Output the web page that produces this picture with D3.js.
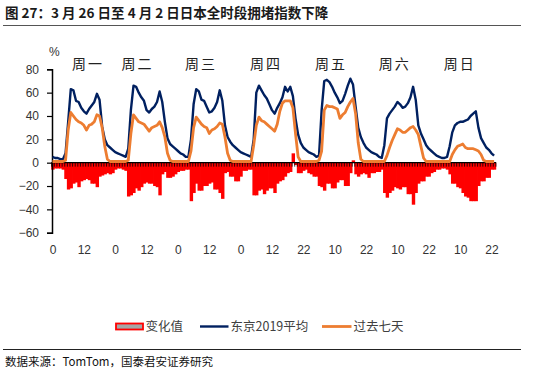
<!DOCTYPE html>
<html>
<head>
<meta charset="utf-8">
<script src="https://cdn.jsdelivr.net/npm/d3@7"></script>
<style>
  body { margin: 0; background: #fff; }
  svg { display: block; }
</style>
</head>
<body>
<div id="chart"></div>
<script>
// hour labels shown on the x axis (every 12th point)
const tickLabels = ["0", "12", "0", "12", "0", "12", "0", "12", "22", "10", "22", "10", "22", "10", "22"];
const dayNames = ["周一", "周二", "周三", "周四", "周五", "周六", "周日"];

// 东京2019平均
const tokyo2019 = [
  5, 4, 4, 3, 3, 8, 35, 63, 62, 53, 52, 47, 44, 42, 46, 49, 52, 59, 54, 31, 20, 15, 13, 11,
  9, 8, 7, 6, 5, 12, 45, 66, 65, 60, 56, 53, 45, 43, 46, 48, 52, 61, 52, 35, 21, 16, 14, 12,
  10, 8, 7, 5, 5, 20, 50, 63, 61, 54, 53, 48, 43, 44, 47, 52, 62, 53, 32, 22, 18, 15, 13, 11,
  9, 8, 7, 6, 5, 20, 60, 66, 62, 58, 55, 50, 45, 42, 47, 51, 56, 65, 61, 65, 57, 38, 24, 17,
  13, 11, 9, 8, 7, 5, 6, 45, 70, 71, 69, 65, 60, 56, 51, 53, 59, 66, 72, 67, 48, 30, 22, 17,
  13, 11, 9, 8, 7, 5, 4, 15, 38, 42, 45, 48, 52, 50, 47, 48, 51, 56, 65, 54, 32, 25, 20, 15,
  12, 10, 8, 6, 5, 4, 4, 5, 14, 26, 32, 34, 35, 35, 36, 37, 40, 42, 44, 30, 21, 17, 13, 11, 8, 6
];

// 过去七天
const past7 = [
  1, 1, 1, 1, 1, 2, 28, 43, 40, 37, 35, 34, 32, 28, 32, 33, 35, 41, 40, 30, 14, 3, 1, 1,
  1, 1, 1, 1, 1, 2, 25, 41, 38, 35, 34, 33, 30, 27, 30, 31, 32, 35, 30, 22, 8, 2, 1, 1,
  1, 1, 1, 1, 1, 10, 30, 39, 36, 33, 31, 30, 25, 28, 29, 31, 34, 33, 22, 8, 2, 1, 1, 1,
  1, 1, 1, 1, 1, 15, 32, 39, 36, 35, 33, 31, 29, 27, 33, 44, 51, 53, 53, 53, 47, 25, 5, 1,
  1, 1, 1, 1, 1, 1, 2, 10, 45, 49, 48, 48, 47, 46, 38, 41, 43, 48, 52, 55, 42, 17, 3, 1,
  1, 1, 1, 1, 1, 1, 1, 1, 6, 13, 19, 24, 29, 28, 26, 26, 28, 30, 31, 28, 24, 14, 4, 1,
  1, 1, 1, 1, 1, 1, 1, 1, 1, 7, 11, 14, 15, 16, 13, 12, 12, 12, 11, 10, 7, 2, 1, 1, 1, 1
];

// 变化值
const change = [
  -6, -5, -5, -5, -6, -14, -23, -22, -18, -17, -21, -16, -15, -14, -15, -18, -18, -21, -12, -11, -10, -9, -10, -9,
  -6, -5, -5, -6, -7, -29, -28, -26, -22, -24, -21, -18, -17, -18, -18, -20, -21, -28, -10, -8, -13, -13, -12, -10,
  -8, -7, -7, -6, -6, -33, -26, -18, -24, -24, -20, -20, -18, -17, -23, -23, -26, -31, -9, -8, -12, -12, -16, -16,
  -12, -7, -7, -6, -6, -28, -28, -24, -23, -27, -24, -22, -22, -26, -18, -16, -15, -12, -9, -8, 8, -2, -9, -9,
  -7, -6, -9, -10, -12, -12, -20, -21, -24, -18, -18, -22, -22, -17, -15, -15, -20, -20, -9, 2, -10, -12, -10, -9,
  -10, -13, -9, -9, -8, -8, -6, -26, -30, -26, -24, -21, -22, -23, -21, -21, -27, -27, -36, -26, -18, -16, -16, -12,
  -12, -9, -8, -6, -6, -5, -5, -6, -10, -18, -18, -21, -22, -26, -29, -30, -33, -33, -33, -20, -16, -16, -13, -13, -6, -6
];

// where the weekday captions sit, in point index units
const dayPos = [13.6, 32.5, 56.8, 81.7, 106.6, 131, 155.9];

const color = {
  change: "#ff0000",
  tokyo: "#002060",
  past: "#ed7d31"
};

const numFont = "'Liberation Sans', Arial, sans-serif";
const cjkFont = "'Noto Sans CJK SC', sans-serif";

const svg = d3.select("#chart")
  .append("svg")
  .attr("width", 550)
  .attr("height", 373)
  .style("background", "#fff");

const x = d3.scaleLinear().domain([0, tokyo2019.length - 1]).range([52.5, 494.1]);
const y = d3.scaleLinear().domain([-60, 80]).range([232.7, 69.3]);
const step = x(1) - x(0);

// Title + rule
svg.append("text")
  .attr("x", 5)
  .attr("y", 18)
  .attr("font-family", cjkFont)
  .attr("font-size", "13.5px")
  .attr("font-weight", "bold")
  .attr("fill", "#1a1a1a")
  .text("图 27：3 月 26 日至 4 月 2 日日本全时段拥堵指数下降");

svg.append("line")
  .attr("x1", 3).attr("x2", 521)
  .attr("y1", 25.5).attr("y2", 25.5)
  .attr("stroke", "#555")
  .attr("stroke-width", 1.2);

// Bars (slightly overlapped so no seams show between neighbours)
svg.append("g")
  .selectAll("rect")
  .data(change)
  .join("rect")
  .attr("x", (d, i) => x(i) - step / 2)
  .attr("width", step + 0.8)
  .attr("y", d => y(Math.max(0, d)))
  .attr("height", d => Math.abs(y(d) - y(0)))
  .attr("fill", color.change);

// Zero axis with dense tick marks
svg.append("g")
  .attr("transform", `translate(0,${y(0)})`)
  .call(d3.axisBottom(x)
    .tickValues(d3.range(-0.5, tokyo2019.length, 1))
    .tickSize(4)
    .tickFormat(""))
  .call(g => g.select(".domain").attr("d", `M${x(0) - 1},0H${x(tokyo2019.length - 1) + 2}`).attr("stroke", "#000").attr("stroke-width", 1.2))
  .call(g => g.selectAll(".tick line").attr("stroke", "#000").attr("stroke-width", 0.8));

// X tick labels at the bottom
svg.append("g")
  .attr("transform", "translate(0,242.5)")
  .call(d3.axisBottom(x)
    .tickValues(tickLabels.map((d, i) => i * 12))
    .tickSize(0)
    .tickPadding(3)
    .tickFormat((d, i) => tickLabels[i]))
  .call(g => g.select(".domain").remove())
  .call(g => g.selectAll("text")
    .attr("font-family", numFont)
    .attr("font-size", "12px")
    .attr("fill", "#333"));

// Y axis
svg.append("g")
  .attr("transform", "translate(52,0)")
  .call(d3.axisLeft(y)
    .tickValues(d3.range(-60, 81, 20))
    .tickSize(5)
    .tickPadding(8))
  .call(g => g.select(".domain").attr("stroke", "#000").attr("stroke-width", 1.5))
  .call(g => g.selectAll(".tick line").attr("stroke", "#000").attr("stroke-width", 1.2))
  .call(g => g.selectAll("text")
    .attr("font-family", numFont)
    .attr("font-size", "12px")
    .attr("fill", "#333"));

svg.append("text")
  .attr("x", 49)
  .attr("y", 56)
  .attr("font-family", numFont)
  .attr("font-size", "12px")
  .attr("fill", "#333")
  .text("%");

// Lines
const line = d3.line()
  .x((d, i) => x(i))
  .y(d => y(d));

svg.append("path")
  .datum(tokyo2019)
  .attr("fill", "none")
  .attr("stroke", color.tokyo)
  .attr("stroke-width", 2.4)
  .attr("stroke-linejoin", "round")
  .attr("d", line);

svg.append("path")
  .datum(past7)
  .attr("fill", "none")
  .attr("stroke", color.past)
  .attr("stroke-width", 2.8)
  .attr("stroke-linejoin", "round")
  .attr("d", line);

// Weekday captions
svg.append("g")
  .selectAll("text")
  .data(dayNames)
  .join("text")
  .attr("x", (d, i) => x(dayPos[i]))
  .attr("y", 69)
  .attr("text-anchor", "middle")
  .attr("font-family", cjkFont)
  .attr("font-size", "14px")
  .attr("letter-spacing", "2px")
  .attr("fill", "#222")
  .text(d => d);

// Legend
const legend = svg.append("g")
  .attr("font-family", cjkFont)
  .attr("font-size", "12.5px")
  .attr("fill", "#404040");

legend.append("rect")
  .attr("x", 116).attr("y", 323.5)
  .attr("width", 27).attr("height", 6)
  .attr("fill", "#a6a6a6")
  .attr("stroke", color.change)
  .attr("stroke-width", 1.8);

legend.append("text").attr("x", 145.5).attr("y", 331).text("变化值");

legend.append("line")
  .attr("x1", 200).attr("x2", 228.5)
  .attr("y1", 326.5).attr("y2", 326.5)
  .attr("stroke", color.tokyo)
  .attr("stroke-width", 2.4);

legend.append("text").attr("x", 230.5).attr("y", 331).text("东京2019平均");

legend.append("line")
  .attr("x1", 322).attr("x2", 351.5)
  .attr("y1", 326.5).attr("y2", 326.5)
  .attr("stroke", color.past)
  .attr("stroke-width", 2.8);

legend.append("text").attr("x", 353.5).attr("y", 331).text("过去七天");

// Source
svg.append("line")
  .attr("x1", 3).attr("x2", 521)
  .attr("y1", 349.5).attr("y2", 349.5)
  .attr("stroke", "#222")
  .attr("stroke-width", 1);

svg.append("text")
  .attr("x", 5)
  .attr("y", 366)
  .attr("font-family", cjkFont)
  .attr("font-size", "11.5px")
  .attr("fill", "#111")
  .text("数据来源：TomTom，国泰君安证券研究");
</script>
</body>
</html>
